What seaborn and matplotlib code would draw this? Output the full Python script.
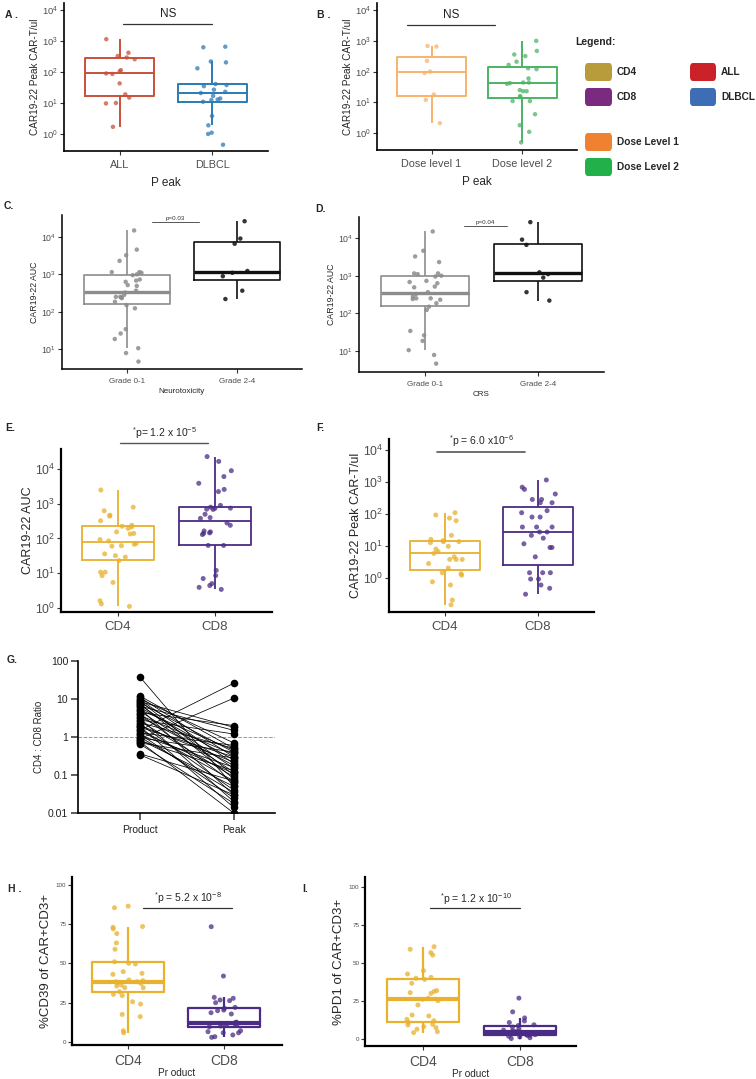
import numpy as np
import pandas as pd
import matplotlib.pyplot as plt
import seaborn as sns
from matplotlib.patches import FancyBboxPatch
from matplotlib.ticker import NullLocator, FixedLocator, FixedFormatter, LogFormatterSciNotation

sns.set_style("ticks")
plt.rcParams["font.family"] = ["Liberation Sans", "DejaVu Sans"]
plt.rcParams["mathtext.default"] = "regular"
np.random.seed(7)

# ── data ───────────────────────────────────────────────────────────────────
# A: peak CAR-T/ul by disease
disease_groups = ["ALL", "DLBCL"]
peak_all = [1150, 420, 330, 295, 260, 115, 105, 90, 87, 43, 19, 15, 10, 9.7, 1.7]
peak_dlbcl = [660, 630, 220, 205, 132, 41, 38, 35, 27, 23, 21, 17, 14, 13, 12.5, 11,
              3.8, 1.9, 1.1, 1.0, 0.45]

# B: peak CAR-T/ul by dose level
dose_groups = ["Dose level 1", "Dose level 2"]
peak_dose1 = [2.1, 12, 18, 90, 100, 223, 650, 680]
peak_dose2 = [0.5, 1.1, 1.8, 4.1, 11, 11, 15, 16, 23, 23, 25, 40, 42, 44, 44, 60, 120,
              128, 165, 210, 320, 360, 470, 1000]

# C / D: AUC by toxicity grade
grade_groups = ["Grade 0-1", "Grade 2-4"]
auc_grade01 = [4.6, 7.8, 10.5, 18.5, 26, 34, 123, 150, 185, 230, 240, 250, 250, 280, 325,
               365, 490, 515, 630, 680, 730, 950, 1000, 1100, 1150, 1150, 2300, 3250,
               4600, 15000]
auc_grade24 = [218, 365, 890, 1100, 1230, 6600, 9100, 26500]

# E: AUC by subset
subset_groups = ["CD4", "CD8"]
auc_cd4 = [1.1, 1.3, 1.6, 5.4, 8.5, 10.7, 10.7, 23, 29, 32, 36, 60, 62, 68, 72, 85, 93,
           135, 140, 155, 195, 215, 225, 240, 325, 440, 470, 630, 800, 2500]
auc_cd8 = [3.4, 3.9, 4.4, 5, 7, 8.5, 12, 63, 63, 130, 140, 145, 155, 165, 240, 280, 380,
           400, 500, 690, 700, 740, 750, 800, 900, 2250, 2600, 3900, 6100, 9000, 16700,
           23000]

# F: peak CAR-T/ul by subset
peakcar_cd4 = [0.15, 0.21, 0.62, 0.78, 1.26, 1.4, 1.5, 2.1, 2.9, 3.9, 3.9, 3.9, 4.7, 6.0,
               6.8, 8.2, 10, 13, 14, 14, 15, 16.5, 22, 63, 76, 95, 112]
peakcar_cd8 = [0.32, 0.49, 0.62, 0.95, 0.95, 1.5, 1.5, 1.5, 4.7, 9.2, 9.2, 12, 18, 22, 28,
               28, 40, 40, 40, 82, 82, 112, 130, 230, 230, 290, 290, 430, 600, 700, 1180]

# G: CD4:CD8 ratio, product vs peak (paired)
ratio_product = [38, 12, 11, 10, 9.6, 9, 8.5, 8, 7.5, 7, 6.5, 6, 5.6, 5.2, 4.8, 4.4, 4,
                 3.7, 3.4, 3.1, 2.8, 2.6, 2.4, 2.2, 2, 1.9, 1.8, 1.6, 1.5, 1.4, 1.3, 1.2,
                 1.1, 1.0, 0.95, 0.9, 0.85, 0.8, 0.75, 0.7, 0.65, 0.36, 0.34]
ratio_peak = [0.05, 0.5, 0.3, 0.7, 0.2, 0.1, 1.8, 0.4, 0.08, 0.15, 1.5, 0.25, 0.03, 0.45,
              0.12, 2.0, 0.06, 0.35, 0.18, 0.02, 1.2, 0.09, 0.5, 0.04, 0.22, 0.014, 0.3,
              0.07, 26, 0.11, 0.6, 0.025, 0.16, 0.035, 0.4, 10.5, 0.05, 0.13, 0.01, 0.28,
              0.018, 0.07, 0.03]
ratio_ticks = [0.01, 0.1, 1, 10, 100]
ratio_labels = ["0.01", "0.1", "1", "10", "100"]

# H: %CD39 in product
cd39_cd4 = [5.7, 7, 16, 17.4, 24, 25.5, 29.4, 30.2, 31.9, 34.5, 34.5, 35.5, 36.2, 37.2,
            37.7, 38.3, 38.3, 38.9, 39.4, 43, 43.6, 44.7, 49.6, 50, 51, 59, 63, 69, 72,
            73, 73.5, 85.5, 86.5]
cd39_cd8 = [2.8, 3.2, 4.3, 5.7, 5.7, 6.4, 7, 9.5, 10, 10.6, 11, 11.5, 11.7, 11.7, 12.1,
            12.2, 12.5, 17.7, 18.5, 19.8, 20.2, 21.3, 21.9, 24.9, 26.2, 26.6, 27.7, 28.3,
            41.9, 73.4]

# I: %PD1 in product
pd1_cd4 = [4.4, 5.0, 6.6, 7.6, 8.3, 9.4, 9.8, 11.1, 12.2, 13.1, 15.3, 15.9, 22.5, 25.3,
           26.2, 26.9, 30.1, 30.6, 31.4, 31.9, 36.7, 39.3, 40, 40.6, 42.8, 45, 55.2,
           56.8, 59, 60.7]
pd1_cd8 = [0.5, 1.0, 1.5, 2, 2.5, 2.8, 3, 3, 3.5, 4, 4, 4.5, 4.7, 5, 5, 5.5, 6, 7, 8, 9,
           9.5, 11, 12, 14, 18, 27]

# legend entries
legend_left = ["CD4", "CD8", "Dose Level 1", "Dose Level 2"]
legend_left_colors = ["#B89B3A", "#7A2A7F", "#EE8230", "#22B04B"]
legend_right = ["ALL", "DLBCL"]
legend_right_colors = ["#CB2229", "#3D6DB5"]

# ── layout helpers ─────────────────────────────────────────────────────────
W, H = 756, 1079
fig = plt.figure(figsize=(W / 100, H / 100), dpi=100)
GRAY = "#4d4d4d"
DECADES = [1e0, 1e1, 1e2, 1e3, 1e4]


def px_axes(left, top, right, bottom):
    return fig.add_axes([left / W, 1 - bottom / H, (right - left) / W, (bottom - top) / H])


def box_strip(ax, groups, series, colors, log=True, lw=1.4, med_lw=None, size=3.2,
              alpha=0.75, jitter=0.17, width=0.75):
    df = pd.DataFrame({
        "group": np.repeat(groups, [len(s) for s in series]),
        "value": np.concatenate([np.asarray(s, float) for s in series]),
    })
    pal = dict(zip(groups, colors))
    if log:
        ax.set_yscale("log")
    sns.boxplot(data=df, x="group", y="value", hue="group", order=groups,
                hue_order=groups, palette=pal, fill=False, width=width, linewidth=lw,
                showfliers=False, showcaps=False, legend=False, ax=ax,
                medianprops={"linewidth": med_lw or lw})
    sns.stripplot(data=df, x="group", y="value", hue="group", order=groups,
                  hue_order=groups, palette=pal, size=size, alpha=alpha, jitter=jitter,
                  linewidth=0, legend=False, ax=ax)
    sns.despine(ax=ax)
    ax.set_xlabel("")
    ax.set_ylabel("")


def style(ax, spine_lw, tick_fs, ytick_fs=None, tick_color=GRAY, ypad=2):
    for s in ("left", "bottom"):
        ax.spines[s].set_linewidth(spine_lw)
        ax.spines[s].set_color("black")
    ax.tick_params(axis="x", labelsize=tick_fs, colors=tick_color, length=3, width=0.8)
    ax.tick_params(axis="y", labelsize=ytick_fs or tick_fs, colors=tick_color, length=3,
                   width=0.8, pad=ypad)
    ax.tick_params(axis="both", which="both", color="#333333")


def log_ticks(ax, ticks=DECADES):
    ax.yaxis.set_major_locator(FixedLocator(ticks))
    ax.yaxis.set_minor_locator(NullLocator())
    ax.yaxis.set_major_formatter(LogFormatterSciNotation())


def sig(ax, x0, x1, y_line, y_text, label, fs, color="#333333", lw=0.9):
    ax.plot([x0, x1], [y_line, y_line], color=color, lw=lw, clip_on=False)
    ax.text((x0 + x1) / 2, y_text, label, ha="center", va="center", fontsize=fs,
            color="#222222", clip_on=False)


# ── A ──────────────────────────────────────────────────────────────────────
axA = px_axes(64, 3, 268, 151)
box_strip(axA, disease_groups, [peak_all, peak_dlbcl], ["#C8503A", "#2C7BB6"])
axA.set_xlim(-0.6, 1.6)
axA.set_ylim(10 ** -0.55, 10 ** 4.23)
log_ticks(axA)
style(axA, 1.2, 7.8, 6.8, ypad=1.5)
axA.set_ylabel("CAR19-22 Peak CAR-T/ul", fontsize=7.2, labelpad=1)
axA.set_xlabel("P eak", fontsize=8.5, labelpad=5)
sig(axA, 0.04, 1.0, 10 ** 3.55, 10 ** 3.86, "NS", 8.5)

# ── B ──────────────────────────────────────────────────────────────────────
axB = px_axes(377, 3, 577, 150)
box_strip(axB, dose_groups, [peak_dose1, peak_dose2], ["#F7B36B", "#4DB365"])
axB.set_xlim(-0.6, 1.6)
axB.set_ylim(10 ** -0.55, 10 ** 4.23)
log_ticks(axB)
style(axB, 1.2, 7.8, 6.8, ypad=1.5)
axB.set_ylabel("CAR19-22 Peak CAR-T/ul", fontsize=7.2, labelpad=1)
axB.set_xlabel("P eak", fontsize=8.5, labelpad=5)
sig(axB, -0.27, 0.70, 10 ** 3.52, 10 ** 3.83, "NS", 8.5)

# ── legend block ───────────────────────────────────────────────────────────
fig.text(575 / W, 1 - 42 / H, "Legend:", fontsize=7.5, fontweight="bold", va="center")
left_rows = [72, 97, 142, 167]
for lab, col, yc in zip(legend_left, legend_left_colors, left_rows):
    fig.patches.append(FancyBboxPatch((585 / W, 1 - (yc + 9) / H), 27 / W, 18 / H,
                                      boxstyle="round,pad=0,rounding_size=0.004",
                                      transform=fig.transFigure, fc=col, ec="none"))
    fig.text(617 / W, 1 - yc / H, lab, fontsize=7.3, fontweight="bold", va="center")
for lab, col, yc in zip(legend_right, legend_right_colors, left_rows[:2]):
    fig.patches.append(FancyBboxPatch((690 / W, 1 - (yc + 9) / H), 26 / W, 18 / H,
                                      boxstyle="round,pad=0,rounding_size=0.004",
                                      transform=fig.transFigure, fc=col, ec="none"))
    fig.text(721 / W, 1 - yc / H, lab, fontsize=7.3, fontweight="bold", va="center")

# ── C / D ──────────────────────────────────────────────────────────────────
for (l, t, r, b, xlab, ylims, p_line, p_text) in [
    (62, 215, 302, 369, "Neurotoxicity", (0.464, 4.59), (0.23, 0.65, 4.40), "p=0.03"),
    (359, 217, 604, 372, "CRS", (0.44, 4.56), (0.34, 0.73, 4.32), "p=0.04"),
]:
    ax = px_axes(l, t, r, b)
    box_strip(ax, grade_groups, [auc_grade01, auc_grade24], ["#8c8c8c", "#111111"],
              lw=1.2, med_lw=2.4, size=3.2, alpha=0.85, width=0.78, jitter=0.15)
    ax.set_xlim(-0.59, 1.59)
    ax.set_ylim(10 ** ylims[0], 10 ** ylims[1])
    log_ticks(ax, DECADES[1:])
    style(ax, 1.1, 5.8, 6.3, ypad=1.5)
    ax.set_ylabel("CAR19-22 AUC", fontsize=6.3, labelpad=1)
    ax.set_xlabel(xlab, fontsize=5.8, labelpad=2)
    x0, x1, yl = p_line
    ax.plot([x0, x1], [10 ** yl] * 2, color="#555555", lw=0.7, clip_on=False)
    ax.text((x0 + x1) / 2, 10 ** (yl + 0.03), p_text, ha="center", va="bottom",
            fontsize=4.5, color="#333333")

# ── E ──────────────────────────────────────────────────────────────────────
axE = px_axes(61, 449, 272, 612)
box_strip(axE, subset_groups, [auc_cd4, auc_cd8], ["#E8B12E", "#4B2C84"], lw=1.3,
          size=3.6, jitter=0.19)
axE.set_xlim(-0.59, 1.59)
axE.set_ylim(10 ** -0.12, 10 ** 4.58)
log_ticks(axE)
style(axE, 1.6, 9.5, 8.8, ypad=1)
axE.set_ylabel("CAR19-22 AUC", fontsize=9, labelpad=1)
axE.plot([0.02, 0.93], [10 ** 4.75] * 2, color="#555555", lw=1.0, clip_on=False)
axE.text(0.475, 10 ** 5.04, r"$^{*}$p= 1.2 x 10$^{-5}$", ha="center", va="center",
         fontsize=7.5, clip_on=False)

# ── F ──────────────────────────────────────────────────────────────────────
axF = px_axes(389, 439, 594, 612)
box_strip(axF, subset_groups, [peakcar_cd4, peakcar_cd8], ["#E8B12E", "#4B2C84"],
          lw=1.3, size=3.6, jitter=0.19)
axF.set_xlim(-0.6, 1.6)
axF.set_ylim(10 ** -1.05, 10 ** 4.35)
log_ticks(axF)
style(axF, 1.6, 9.5, 8.8, ypad=1)
axF.set_ylabel("CAR19-22 Peak CAR-T/ul", fontsize=9, labelpad=1)
axF.plot([-0.08, 0.86], [10 ** 3.95] * 2, color="#555555", lw=1.2, clip_on=False)
axF.text(0.39, 10 ** 4.29, r"$^{*}$p = 6.0 x10$^{-6}$", ha="center", va="center",
         fontsize=7.5, clip_on=False)

# ── G ──────────────────────────────────────────────────────────────────────
axG = px_axes(78, 661, 275, 813)
pairs = pd.DataFrame({
    "pair": np.tile(np.arange(len(ratio_product)), 2),
    "stage": np.repeat([0, 1], len(ratio_product)),
    "ratio": ratio_product + ratio_peak,
})
axG.set_yscale("log")
axG.axhline(1, color="#999999", ls="--", lw=0.7, zorder=0)
sns.lineplot(data=pairs, x="stage", y="ratio", units="pair", estimator=None,
             color="black", lw=0.55, ax=axG)
sns.scatterplot(data=pairs, x="stage", y="ratio", color="black", s=30, linewidth=0,
                ax=axG, zorder=3)
axG.set_xlim(-0.66, 1.44)
axG.set_ylim(0.01, 100)
axG.yaxis.set_major_locator(FixedLocator(ratio_ticks))
axG.yaxis.set_major_formatter(FixedFormatter(ratio_labels))
axG.yaxis.set_minor_locator(NullLocator())
axG.set_xticks([0, 1])
axG.set_xticklabels(["Product", "Peak"])
sns.despine(ax=axG)
style(axG, 1.2, 7.5, 7.5, tick_color="#222222")
axG.tick_params(axis="both", length=5, width=1.1)
axG.set_xlabel("")
axG.set_ylabel("CD4 : CD8 Ratio", fontsize=7, labelpad=3)

# ── H ──────────────────────────────────────────────────────────────────────
axH = px_axes(72, 877, 282, 1045)
box_strip(axH, subset_groups, [cd39_cd4, cd39_cd8], ["#E8B12E", "#4B2C84"], log=False,
          lw=1.6, med_lw=3.0, size=3.6, alpha=0.75)
axH.set_xlim(-0.58, 1.6)
axH.set_ylim(-2.1, 105.1)
axH.set_yticks([0, 25, 50, 75, 100])
style(axH, 1.6, 10, 4.5, ypad=1)
axH.set_ylabel("%CD39 of CAR+CD3+", fontsize=9.5, labelpad=3)
axH.set_xlabel("Pr oduct", fontsize=7.2, labelpad=0)
axH.plot([0.16, 1.08], [85.3, 85.3], color="#333333", lw=0.9, clip_on=False)
axH.text(0.62, 91.7, r"$^{*}$p = 5.2 x 10$^{-8}$", ha="center", va="center",
         fontsize=7.5)

# ── I ──────────────────────────────────────────────────────────────────────
axI = px_axes(365, 877, 576, 1046)
box_strip(axI, subset_groups, [pd1_cd4, pd1_cd8], ["#E8B12E", "#4B2C84"], log=False,
          lw=1.6, med_lw=3.0, size=3.6, alpha=0.75)
axI.set_xlim(-0.6, 1.58)
axI.set_ylim(-4.4, 106.4)
axI.set_yticks([0, 25, 50, 75, 100])
style(axI, 1.6, 10, 4.5, ypad=1)
axI.set_ylabel("%PD1 of CAR+CD3+", fontsize=9.5, labelpad=3)
axI.set_xlabel("Pr oduct", fontsize=7.2, labelpad=0)
axI.plot([0.07, 1.0], [86, 86], color="#333333", lw=0.9, clip_on=False)
axI.text(0.55, 92, r"$^{*}$p = 1.2 x 10$^{-10}$", ha="center", va="center",
         fontsize=7.5)

# ── panel letters ──────────────────────────────────────────────────────────
for lab, x, y in [("A .", 5, 15), ("B .", 317, 15), ("C.", 4, 206), ("D.", 315, 209),
                  ("E.", 5, 428), ("F.", 316, 428), ("G.", 7, 660), ("H .", 8, 889),
                  ("I.", 302, 889)]:
    fig.text(x / W, 1 - y / H, lab, fontsize=7.5, fontweight="bold", va="center")

fig.savefig("out.png", dpi=100)
